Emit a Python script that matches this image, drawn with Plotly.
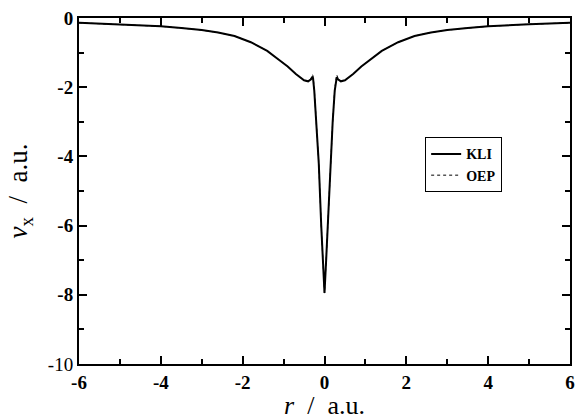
import plotly.graph_objects as go

# r >= 0 half of the (symmetric) exchange potential
r_half = [0.0, 0.04, 0.08, 0.14, 0.2, 0.25, 0.28, 0.30, 0.33, 0.4, 0.5, 0.6, 0.7, 0.9,
          1.1, 1.4, 1.8, 2.2, 2.6, 3.0, 3.5, 4.0, 5.0, 6.0]
kli_half = [-7.95, -7.0, -6.0, -4.2, -3.0, -2.1, -1.74, -1.71, -1.77, -1.83, -1.80, -1.72,
            -1.62, -1.40, -1.22, -0.95, -0.70, -0.52, -0.42, -0.35, -0.29, -0.24, -0.18, -0.14]
oep_half = [-7.95, -7.0, -6.0, -4.2, -3.0, -2.05, -1.66, -1.64, -1.75, -1.83, -1.80, -1.72,
            -1.62, -1.40, -1.22, -0.95, -0.70, -0.52, -0.42, -0.35, -0.29, -0.24, -0.18, -0.14]

r = [-x for x in r_half[::-1]] + r_half[1:]
kli = kli_half[::-1] + kli_half[1:]
oep = oep_half[::-1] + oep_half[1:]

x_ticks = [-6, -4, -2, 0, 2, 4, 6]
y_ticks = [-10, -8, -6, -4, -2, 0]

fig = go.Figure()
fig.add_trace(go.Scatter(x=r, y=kli, mode="lines", name="<b>KLI</b>",
                         line=dict(color="black", width=2)))
fig.add_trace(go.Scatter(x=r, y=oep, mode="lines", name="<b>OEP</b>",
                         line=dict(color="black", width=1, dash="dot")))

axis_common = dict(
    showline=True, linecolor="black", linewidth=2, mirror="ticks",
    ticks="inside", ticklen=8, tickwidth=1.5, tickcolor="black",
    showgrid=False, zeroline=False, ticklabeloverflow="allow", automargin=False,
    tickfont=dict(family="Liberation Serif", size=19, color="black"),
)

fig.update_xaxes(
    range=[-6, 6], tickvals=x_ticks,
    ticktext=["<b>%d</b>" % v for v in x_ticks],
    minor=dict(dtick=1, ticks="inside", ticklen=5, tickcolor="black", tickwidth=1.5),
    title=dict(text="<i>r</i>  /  a.u.", font=dict(family="Liberation Serif", size=26, color="black"),
               standoff=6),
    **axis_common,
)
fig.update_yaxes(
    range=[-10, 0], tickvals=y_ticks,
    ticktext=["-10"] + ["<b>%d</b>" % v for v in y_ticks[1:]],
    minor=dict(dtick=1, ticks="inside", ticklen=5, tickcolor="black", tickwidth=1.5),
    title=dict(text="<i>v</i><sub>x</sub>  /  a.u.", font=dict(family="Liberation Serif", size=27, color="black"),
               standoff=12),
    **axis_common,
)

fig.update_layout(
    width=577, height=420,
    margin=dict(l=79, r=7, t=18, b=56),
    paper_bgcolor="white", plot_bgcolor="white",
    showlegend=True,
    legend=dict(x=0.705, y=0.655, xanchor="left", yanchor="top",
                bordercolor="black", borderwidth=1, bgcolor="white",
                font=dict(family="Liberation Serif", size=14, color="black"),
                tracegroupgap=0, itemwidth=30),
)

# the page body has an 8px default margin; drop it so the figure sits at (0, 0)
fig.write_html("out.html", config={"displayModeBar": False},
               post_script="document.body.style.margin='0';")
